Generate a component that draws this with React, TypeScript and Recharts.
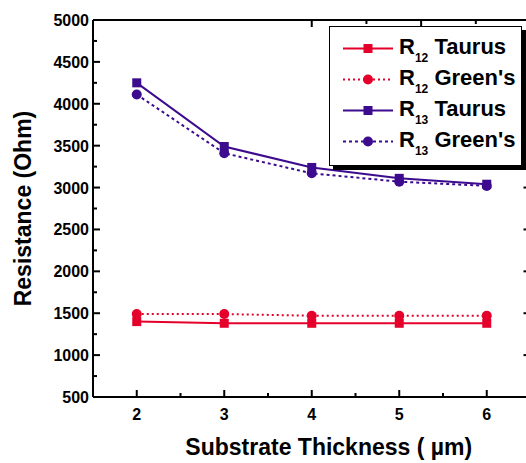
import React from "react";
import { LineChart, Line, XAxis, YAxis, Legend } from "recharts";

const thickness = [2, 3, 4, 5, 6];
const r12Taurus = [1400, 1380, 1380, 1380, 1380];
const r12Greens = [1490, 1490, 1470, 1470, 1470];
const r13Taurus = [4250, 3490, 3240, 3110, 3040];
const r13Greens = [4110, 3410, 3170, 3070, 3020];

const xMajor = [2, 3, 4, 5, 6];
const xTicks = [2, 2.5, 3, 3.5, 4, 4.5, 5, 5.5, 6];
const yMajor = [500, 1000, 1500, 2000, 2500, 3000, 3500, 4000, 4500, 5000];
const yTicks = [500, 750, 1000, 1250, 1500, 1750, 2000, 2250, 2500, 2750, 3000, 3250, 3500, 3750, 4000, 4250, 4500, 4750, 5000];

const RED = "#e4002b";
const PURPLE = "#3c0b8e";
const FONT = '"Liberation Sans", Arial, sans-serif';

const data = thickness.map((t, i) => ({
  t,
  r12T: r12Taurus[i],
  r12G: r12Greens[i],
  r13T: r13Taurus[i],
  r13G: r13Greens[i],
}));

const series = [
  { key: "r12T", sub: "12", name: "Taurus", color: RED, dash: undefined, shape: "square" },
  { key: "r12G", sub: "12", name: "Green's", color: RED, dash: "2 3", shape: "circle" },
  { key: "r13T", sub: "13", name: "Taurus", color: PURPLE, dash: undefined, shape: "square" },
  { key: "r13G", sub: "13", name: "Green's", color: PURPLE, dash: "3 3", shape: "circle" },
];

function marker(shape: string, color: string) {
  return (props: any) => {
    const { cx, cy, index } = props;
    if (cx == null || cy == null) return <g key={index} />;
    if (shape === "square") {
      return <rect key={index} x={cx - 4.5} y={cy - 4.5} width={9} height={9} fill={color} />;
    }
    return <circle key={index} cx={cx} cy={cy} r={5} fill={color} />;
  };
}

// ticks point into the plot; majors are longer and only the bottom/left ones get labels
const bottomTick = (props: any) => {
  const { x, y, payload } = props;
  const major = xMajor.includes(payload.value);
  return (
    <g>
      <line x1={x} x2={x} y1={y} y2={y - (major ? 7 : 4)} stroke="#000" strokeWidth={2} />
      {major && (
        <text x={x} y={y + 23} textAnchor="middle" fontFamily={FONT} fontWeight="bold" fontSize={16} fill="#000">
          {payload.value}
        </text>
      )}
    </g>
  );
};
const topTick = (props: any) => {
  const { x, y, payload } = props;
  const major = xMajor.includes(payload.value);
  return <line x1={x} x2={x} y1={y} y2={y + (major ? 7 : 4)} stroke="#000" strokeWidth={2} />;
};
const leftTick = (props: any) => {
  const { x, y, payload } = props;
  const major = yMajor.includes(payload.value);
  return (
    <g>
      <line x1={x} x2={x + (major ? 7 : 4)} y1={y} y2={y} stroke="#000" strokeWidth={2} />
      {major && (
        <text x={x - 4} y={y + 6} textAnchor="end" fontFamily={FONT} fontWeight="bold" fontSize={16} fill="#000">
          {payload.value}
        </text>
      )}
    </g>
  );
};
const rightTick = (props: any) => {
  const { x, y, payload } = props;
  const major = yMajor.includes(payload.value);
  return <line x1={x} x2={x - (major ? 7 : 4)} y1={y} y2={y} stroke="#000" strokeWidth={2} />;
};

function LegendBox() {
  return (
    <div
      style={{
        width: 178,
        height: 132,
        border: "1px solid #000",
        boxShadow: "4px 4px 0 #000",
        background: "#fff",
        paddingTop: 6,
        paddingLeft: 13,
        boxSizing: "content-box",
        fontFamily: FONT,
        fontWeight: "bold",
      }}
    >
      {series.map((s) => (
        <div key={s.key} style={{ display: "flex", alignItems: "center", height: 31 }}>
          <svg width={50} height={31} style={{ flex: "none" }}>
            <line x1={0} x2={50} y1={15.5} y2={15.5} stroke={s.color} strokeWidth={2} strokeDasharray={s.dash} />
            {s.shape === "square" ? (
              <rect x={20.5} y={11} width={9} height={9} fill={s.color} />
            ) : (
              <circle cx={25} cy={15.5} r={5} fill={s.color} />
            )}
          </svg>
          <span style={{ fontSize: 22, lineHeight: "31px", marginLeft: 6, whiteSpace: "nowrap", color: "#000" }}>
            R
            <span style={{ fontSize: 12, position: "relative", top: 8 }}>{s.sub}</span> {s.name}
          </span>
        </div>
      ))}
    </div>
  );
}

const axisLine = { stroke: "#000", strokeWidth: 2 };
const xProps = { type: "number" as const, domain: [1.5, 6.5], allowDataOverflow: true, ticks: xTicks, interval: 0 as const, tickLine: false, tickSize: 0, tickMargin: 0, axisLine };
const yProps = { type: "number" as const, domain: [500, 5000], allowDataOverflow: true, ticks: yTicks, interval: 0 as const, tickLine: false, tickSize: 0, tickMargin: 0, axisLine };

export default function App() {
  return (
    <div style={{ position: "absolute", left: 0, top: 0, width: 526, height: 463, overflow: "hidden", background: "#fff" }}>
      <LineChart width={540} height={463} data={data} margin={{ top: 0, right: 0, bottom: 0, left: 0 }}>
        <XAxis
          xAxisId="x"
          dataKey="t"
          height={66}
          {...xProps}
          tick={bottomTick}
          label={{
            position: "bottom",
            content: ({ viewBox }: any) => (
              <text
                x={viewBox.x + viewBox.width / 2 + 17}
                y={viewBox.y + 58}
                textAnchor="middle"
                fontFamily={FONT}
                fontWeight="bold"
                fontSize={23}
                fill="#000"
              >
                Substrate Thickness ( µm)
              </text>
            ),
          }}
        />
        <XAxis xAxisId="xt" orientation="top" height={20} {...xProps} tick={topTick} />
        <YAxis
          yAxisId="y"
          width={93}
          {...yProps}
          tick={leftTick}
          label={{
            position: "insideLeft",
            content: ({ viewBox }: any) => {
              const x = viewBox.x + 23;
              const y = viewBox.y + viewBox.height / 2;
              return (
                <text
                  x={x}
                  y={y}
                  transform={`rotate(-90 ${x} ${y})`}
                  textAnchor="middle"
                  dominantBaseline="central"
                  fontFamily={FONT}
                  fontWeight="bold"
                  fontSize={23}
                  fill="#000"
                >
                  Resistance (Ohm)
                </text>
              );
            },
          }}
        />
        <YAxis yAxisId="yr" orientation="right" width={9.5} {...yProps} tick={rightTick} />
        <Legend
          layout="vertical"
          align="center"
          verticalAlign="middle"
          content={() => <LegendBox />}
          wrapperStyle={{ position: "absolute", left: 329, top: 26, width: "auto", height: "auto" }}
        />
        {series.map((s) => (
          <Line
            key={s.key}
            xAxisId="x"
            yAxisId="y"
            dataKey={s.key}
            type="linear"
            stroke={s.color}
            strokeWidth={2}
            strokeDasharray={s.dash}
            dot={marker(s.shape, s.color)}
            activeDot={false}
            isAnimationActive={false}
          />
        ))}
      </LineChart>
    </div>
  );
}
